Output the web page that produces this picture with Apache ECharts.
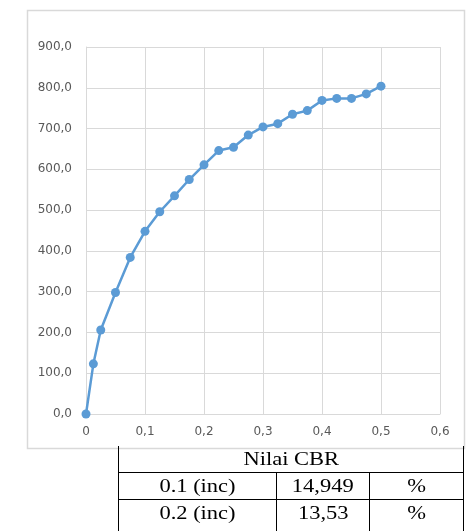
<!DOCTYPE html>
<html>
<head>
<meta charset="utf-8">
<script src="https://cdn.jsdelivr.net/npm/echarts@6/dist/echarts.min.js"></script>
<style>
html,body{margin:0;padding:0;background:#fff;}
#wrap{position:relative;width:468px;height:531px;overflow:hidden;}
#chart{position:absolute;left:0;top:0;width:468px;height:531px;}
#tbl{position:absolute;left:118px;top:446px;border-collapse:collapse;font-family:"Liberation Serif","Times New Roman",serif;font-size:18px;color:#000;}
#tbl td{border:1px solid #000;padding:0;text-align:center;vertical-align:top;line-height:26px;height:26px;}
#tbl tr:first-child td{border-top:none;}
#tbl td span{display:inline-block;transform:scaleX(1.25);}
</style>
</head>
<body>
<div id="wrap">
<div id="chart"></div>
<table id="tbl">
<tr><td colspan="3" style="width:344px;"><span>Nilai CBR</span></td></tr>
<tr><td style="width:157px;"><span>0.1 (inc)</span></td><td style="width:92px;"><span>14,949</span></td><td style="width:93px;"><span>%</span></td></tr>
<tr><td style="height:40px;"><span>0.2 (inc)</span></td><td style="height:40px;"><span>13,53</span></td><td style="height:40px;"><span>%</span></td></tr>
</table>
</div>
<script>
const penetration = [0, 0.0125, 0.025, 0.05, 0.075, 0.1, 0.125, 0.15, 0.175, 0.2, 0.225, 0.25, 0.275, 0.3, 0.325, 0.35, 0.375, 0.4, 0.425, 0.45, 0.475, 0.5];
const load = [0, 123, 206, 298, 384, 448, 496, 535, 575, 611, 646, 654, 684, 704, 712, 735, 744, 769, 774, 774, 785, 804];

const chart = echarts.init(document.getElementById('chart'), null, {renderer: 'canvas'});
const labelStyle = {color: '#595959', fontFamily: 'DejaVu Sans', fontSize: 12};
const gridLine = {show: true, lineStyle: {color: '#d9d9d9', width: 1}};
chart.setOption({
  animation: false,
  backgroundColor: '#fff',
  graphic: [{
    type: 'rect', left: 25, top: 8, z: 100,
    shape: {width: 437, height: 438},
    style: {fill: 'none', stroke: '#d9d9d9', lineWidth: 1.5}
  }],
  grid: {left: 86, top: 47, width: 354, height: 367},
  xAxis: {
    type: 'value', min: 0, max: 0.6, interval: 0.1,
    axisLine: {show: true, lineStyle: {color: '#d9d9d9'}},
    axisTick: {show: false},
    splitLine: gridLine,
    axisLabel: Object.assign({margin: 12, formatter: v => String(Math.round(v * 10) / 10).replace('.', ',')}, labelStyle)
  },
  yAxis: {
    type: 'value', min: 0, max: 900, interval: 100,
    axisLine: {show: true, lineStyle: {color: '#d9d9d9'}},
    axisTick: {show: false},
    splitLine: gridLine,
    axisLabel: Object.assign({margin: 14, formatter: v => v.toFixed(1).replace('.', ',')}, labelStyle)
  },
  series: [{
    type: 'line',
    data: penetration.map((x, i) => [x, load[i]]),
    symbol: 'circle', symbolSize: 9,
    lineStyle: {color: '#5b9bd5', width: 2.5},
    itemStyle: {color: '#5b9bd5'}
  }]
});
</script>
</body>
</html>
